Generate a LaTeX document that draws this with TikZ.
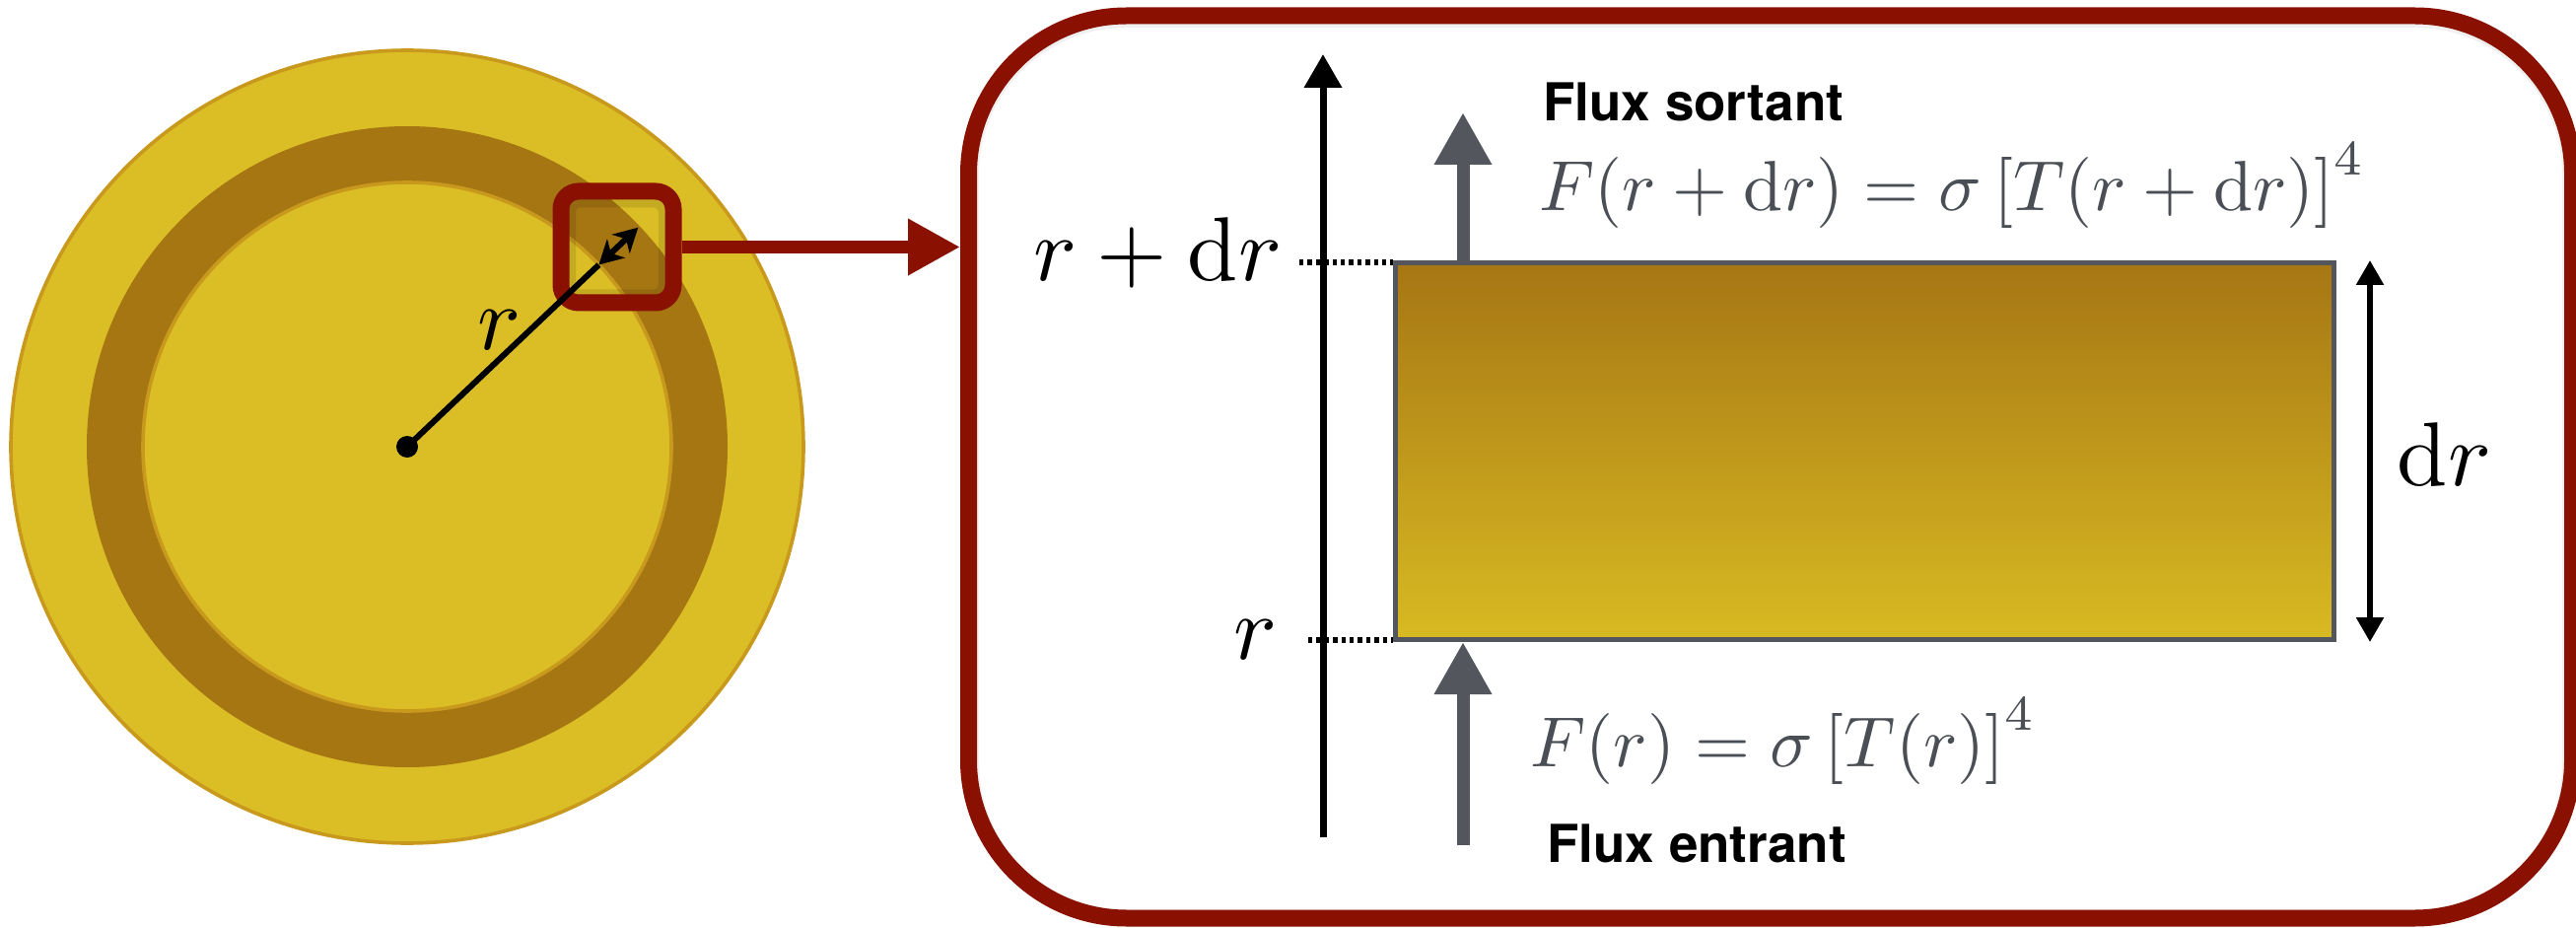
\documentclass[tikz,border=0pt]{standalone}
\usepackage{fontspec}
\newfontfamily\fluxfont{TeX Gyre Heros}
\usetikzlibrary{arrows.meta,calc}
\definecolor{goldlight}{HTML}{DBBE25}
\definecolor{goldedge}{HTML}{C8991C}
\definecolor{golddark}{HTML}{A57612}
\definecolor{framered}{HTML}{8A1102}
\definecolor{slate}{HTML}{53575D}
\definecolor{formulagray}{HTML}{4A4F55}
\definecolor{shadetop}{HTML}{A67614}
\definecolor{shadebot}{HTML}{D8BA22}
\begin{document}
\begin{tikzpicture}[x=0.5pt,y=-0.5pt,
  goldcircle/.style={fill=goldlight, draw=goldedge, line width=1.8pt},
  bigmath/.style={inner sep=0pt, scale=4.6},
  formula/.style={inner sep=0pt, text=formulagray, scale=3.6},
  fluxlabel/.style={inner sep=0pt, font=\fluxfont\fontsize{26.5}{30}\selectfont\bfseries},
  fluxarrow/.style={draw=slate, line width=6.5pt, -{Triangle[length=26.5pt,width=27.5pt]}},
  framebox/.style={draw=framered, line width=8.5pt, inner sep=0pt},
  dotline/.style={line width=3pt, dash pattern=on 2.2pt off 2pt},
  dimarrow/.style={line width=2.75pt, {Triangle[length=12.5pt,width=13.5pt]}-{Triangle[length=12.5pt,width=13.5pt]}},
  radarrow/.style={line width=3pt, {Stealth[length=12pt,width=13pt,inset=3.5pt]}-{Stealth[length=12pt,width=13pt,inset=3.5pt]}}
]
\useasboundingbox (0,0) rectangle (2613,941);

% ---------- left: the star with its shell ----------
\coordinate (C) at (413,453);
\path[goldcircle] (C) circle[radius=201pt];
\fill[golddark] (C) circle[radius=162.5pt];
\path[goldcircle] (C) circle[radius=134pt];

\node[draw=black, draw opacity=0.10, line width=11pt, rounded corners=8pt, minimum width=53pt, minimum height=52.5pt, inner sep=0pt] (sqshadow) at (626,252) {};
\node[framebox, rounded corners=9pt, minimum width=57pt, minimum height=56.5pt] (sq) at (626,250.5) {};

\coordinate (rin) at (607.4,268.5);
\coordinate (rout) at (647.3,230.7);
\draw[line width=3pt] (C) -- (rin);
\draw[radarrow] (rin) -- (rout);
\fill (C) circle[radius=5.5pt];
\node[bigmath] (rlab) at (507,335) {$r$};

% ---------- right: zoomed panel ----------
\node[draw=black, draw opacity=0.06, line width=5pt, rounded corners=77pt, minimum width=808pt, minimum height=452pt, inner sep=0pt] (pshadow) at (1796,475) {};
\node[framebox, rounded corners=80pt, minimum width=813.5pt, minimum height=457.5pt] (panel) at (1796,473.5) {};

\draw[framered, line width=6.5pt, -{Triangle[length=26.5pt,width=27pt]}] (sq.east) -- (sq.east -| panel.west);

% radial axis
\coordinate (axB) at (1342,849);
\coordinate (axT) at (1342,55);
\draw[line width=3.5pt, -{Triangle[length=17pt,width=18.5pt]}] (axB) -- (axT);

% shell element
\node[draw=slate, line width=2.5pt, top color=shadetop, bottom color=shadebot,
      minimum width=476pt, minimum height=191pt, inner sep=0pt] (shell) at (1891.5,457.5) {};

% dotted level marks
\coordinate (dotU) at (1318,266.5);
\coordinate (dotL) at (1327,648.5);
\draw[dotline] (dotU) -- (dotU -| shell.west);
\draw[dotline] (dotL) -- (dotL -| shell.west);

% level labels
\node[bigmath, anchor=base east] (rdr) at (1302,285) {$r+\mathrm{d}r$};
\node[bigmath, anchor=base east] (rr) at (1297,668) {$r$};

% flux arrows
\coordinate (upTip) at (1484,114);
\coordinate (loBase) at (1484,857);
\draw[fluxarrow] (upTip |- shell.north) -- (upTip);
\draw[fluxarrow] (loBase) -- (loBase |- shell.south);

% thickness dimension
\coordinate (drx) at (2404,0);
\draw[dimarrow] (drx |- shell.north) -- (drx |- shell.south);
\node[bigmath, anchor=base west] (drlab) at (2430,492) {$\mathrm{d}r$};

% texts
\node[fluxlabel, anchor=base west] (fs) at (1565,123) {Flux sortant};
\node[formula, anchor=base west] (fout) at (1560,214) {$F(r+\mathrm{d}r) = \sigma\left[T(r+\mathrm{d}r)\right]^4$};
\node[formula, anchor=base west] (fin) at (1551,777) {$F(r) = \sigma\left[T(r)\right]^4$};
\node[fluxlabel, anchor=base west] (fe) at (1569,874) {Flux entrant};
\end{tikzpicture}
\end{document}
